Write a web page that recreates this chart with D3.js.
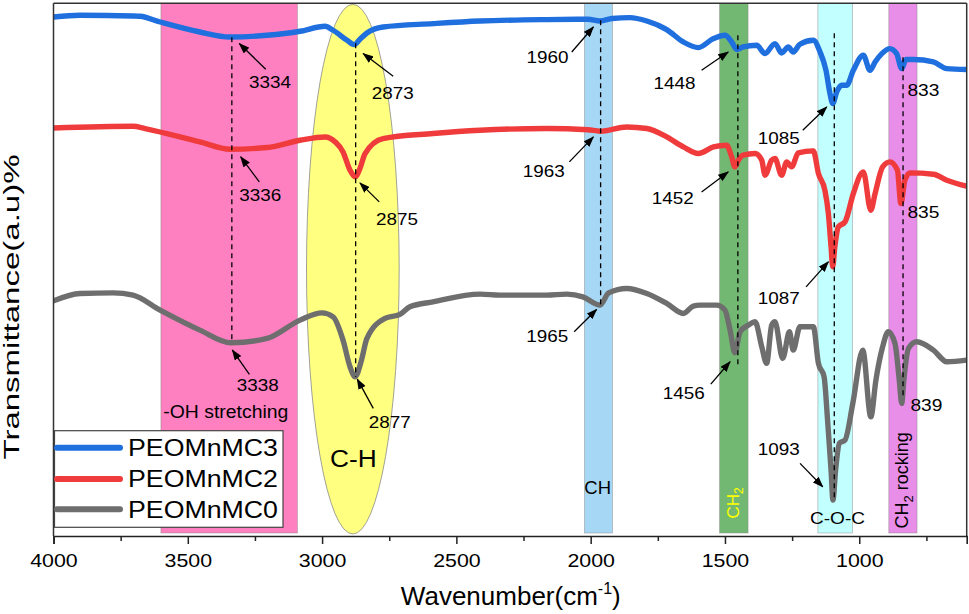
<!DOCTYPE html>
<html><head><meta charset="utf-8">
<script src="https://cdn.jsdelivr.net/npm/d3@7/dist/d3.min.js"></script>
<style>body{margin:0;background:#fff}svg{display:block}text{font-family:"Liberation Sans",Arial,sans-serif}</style>
</head><body><div id="chart"></div>
<script>
// ---------- DATA ----------
const seriesNames = ["PEOMnMC3", "PEOMnMC2", "PEOMnMC0"];
const seriesColors = ["#1f6fde", "#ef3b3b", "#6e6e6e"];

// [wavenumber cm^-1, transmittance a.u.]
const peomnmc3 = [[4000,519.3],[3901,521],[3704,520.3],[3678,520],[3603,514.3],[3455,504.3],[3343,499.3],[3205,501],[3082,505],[2989,510],[2959,506],[2907,496],[2881,491.7],[2859,497],[2833,503.3],[2773,509.3],[2587,512.7],[2412,515.3],[2164,516.7],[2010,517],[1965,515.3],[1920,517.8],[1854,518.7],[1791,515.3],[1717,506.7],[1655,494.3],[1599,488.7],[1543,497.7],[1500,501],[1475,494.3],[1456,486.7],[1432,489.3],[1382,491],[1351,482.7],[1314,492.7],[1289,483.3],[1264,489.3],[1246,484.3],[1221,492],[1171,496],[1146,484.3],[1124,466],[1109,442.7],[1099,432.7],[1084,444.3],[1065,451],[1047,451],[1022,466],[985,481],[960,466],[941,474.3],[916,482.7],[886,487.7],[861,482.7],[842,467.7],[826,476.7],[799,476.7],[724,474.3],[674,467.7],[600,466.7]];
const peomnmc2 = [[4000,408.3],[3704,410],[3659,407.7],[3455,394.3],[3343,387],[3205,388.7],[3082,396],[2989,399.3],[2951,394.3],[2922,384.3],[2896,366],[2877,359.3],[2859,367.7],[2840,382.7],[2773,397.7],[2587,402.7],[2412,406],[2164,407.7],[2010,406.5],[1965,405],[1866,409.3],[1791,407.7],[1717,399.3],[1655,389.3],[1599,382.7],[1543,389.3],[1494,391],[1475,379.3],[1463,369.3],[1450,376],[1432,381],[1388,382.7],[1363,376],[1351,361],[1326,376],[1314,377.7],[1289,361],[1270,374.3],[1252,369.3],[1227,383.3],[1171,385.3],[1152,362.7],[1128,346],[1115,322.7],[1105,289.3],[1099,269.3],[1091,289.3],[1078,309.3],[1053,314.3],[1022,342.7],[985,364.3],[957,326],[941,342.7],[913,369.3],[886,374.3],[858,366],[845,332.7],[830,356],[811,363.3],[724,362],[674,356],[600,350]];
const peomnmc0 = [[4000,235.3],[3901,242.7],[3778,243.3],[3704,241],[3603,226],[3455,206],[3339,193.3],[3205,197.7],[3082,216],[3000,223.3],[2959,219.3],[2922,196],[2896,169.3],[2877,159.3],[2855,174.3],[2833,197.7],[2766,217.7],[2710,221.7],[2673,229.3],[2587,234.3],[2412,242],[2338,241],[2226,241],[2164,241],[2089,242],[2029,239.3],[1965,231],[1933,243.3],[1866,247.7],[1791,242.7],[1717,232.7],[1655,222.7],[1618,230],[1593,231],[1531,231],[1500,226],[1481,206],[1463,183.3],[1444,204.3],[1413,211],[1388,214.3],[1363,189.3],[1345,172.7],[1326,211],[1314,214.3],[1285,177.7],[1260,204.3],[1246,186],[1221,209.3],[1171,209.3],[1152,172.7],[1131,159.3],[1118,116],[1105,66],[1098,36],[1088,66],[1074,92.7],[1053,96],[1024,132.7],[987,186],[957,119.3],[938,156],[913,189.3],[892,204.3],[867,192.7],[851,156],[842,132.7],[834,156],[817,187.7],[786,194.3],[724,186],[674,174.3],[600,176]];

const xTicks = [4000, 3500, 3000, 2500, 2000, 1500, 1000];
const xMinorTicks = [3750, 3250, 2750, 2250, 1750, 1250, 750];

// shaded assignment bands [from, to] in cm^-1
const bands = [
  {from:3600, to:3092, fill:"#ff80c0"},
  {from:2023, to:1919, fill:"#a6d8f6"},
  {from:1520, to:1414, fill:"#72b872"},
  {from:1154, to:1025, fill:"#c2ffff"},
  {from:890,  to:785,  fill:"#e88ee8"}
];
const ellipseBand = {from:3058, to:2713, fill:"#ffff80"};

// dashed peak markers [wavenumber, from value, to value]
const peakLines = [[3336,499,193],[2875,493,159],[1963,516,231],[1452,501,169],[1093,503,36],[837,479,139]];

// peak annotations: arrow tip (wn, value) and pixel offsets of tail / label centre
const annotations = [
  {label:"3334", wn:3308, v:492.7, tail:[26.4,25.7], text:[30.7,44]},
  {label:"2873", wn:2847, v:482.7, tail:[30,22.7],   text:[29.5,45.7]},
  {label:"3336", wn:3303, v:379.3, tail:[18.6,25],   text:[19.5,44]},
  {label:"2875", wn:2859, v:353.3, tail:[19.3,19],   text:[37,42.3]},
  {label:"3338", wn:3334, v:186,   tail:[17,24.3],   text:[25.4,41]},
  {label:"2877", wn:2869, v:157,   tail:[16,29.3],   text:[32.4,49.3]},
  {label:"1960", wn:1990, v:509.3, tail:[-21.6,25],  text:[-45.8,35.6]},
  {label:"1448", wn:1488, v:484.3, tail:[-26.6,18.3],text:[-53.8,36.6]},
  {label:"1963", wn:1990, v:399.3, tail:[-24,25],    text:[-49.5,40]},
  {label:"1452", wn:1488, v:364.3, tail:[-26.6,20],  text:[-55.5,31.6]},
  {label:"1085", wn:1121, v:429.3, tail:[-24,23.3],  text:[-47.9,36.6]},
  {label:"1087", wn:1115, v:274.3, tail:[-22.3,25],  text:[-49.5,42.3]},
  {label:"1965", wn:1978, v:226.7, tail:[-22.4,22.4],text:[-49.2,32.4]},
  {label:"1456", wn:1481, v:174.3, tail:[-19.3,22.3],text:[-46.3,37.6]},
  {label:"1093", wn:1136, v:49.3,  tail:[-22.7,-23.4],text:[-43.9,-31.7]},
  {label:"833",  wn:761,  v:440.3, tail:null, text:[0,0]},
  {label:"835",  wn:761,  v:317.7, tail:null, text:[0,0]},
  {label:"839",  wn:750,  v:125,   tail:null, text:[0,0]}
];

// ---------- CHART ----------
const W = 969, H = 614;
const L = 53.5, R = 966.7, T = 3.3, B = 536;
const svg = d3.select("#chart").append("svg").attr("width", W).attr("height", H);
const x = d3.scaleLinear().domain([4000, 600]).range([L, R]);
const y = d3.scaleLinear().domain([0, 533]).range([B, T]);

const defs = svg.append("defs");
defs.append("clipPath").attr("id","plot").append("rect").attr("x",L).attr("y",T).attr("width",R-L).attr("height",B-T);
defs.append("marker").attr("id","arrow").attr("markerUnits","userSpaceOnUse")
  .attr("markerWidth",11).attr("markerHeight",8).attr("refX",10).attr("refY",4).attr("orient","auto")
  .append("path").attr("d","M0,0 L11,4 L0,8 Z").attr("fill","#000");

const gPlot = svg.append("g").attr("clip-path","url(#plot)");

// bands
gPlot.selectAll("rect.band").data(bands).enter().append("rect").attr("class","band")
  .attr("x", d => x(d.from)).attr("width", d => x(d.to) - x(d.from))
  .attr("y", y(533)).attr("height", y(3) - y(533))
  .attr("fill", d => d.fill).attr("stroke","#8a8a8a").attr("stroke-opacity",0.6).attr("stroke-width",0.8);

gPlot.append("ellipse")
  .attr("cx", (x(ellipseBand.from)+x(ellipseBand.to))/2)
  .attr("rx", (x(ellipseBand.to)-x(ellipseBand.from))/2)
  .attr("cy", (y(532)+y(2))/2).attr("ry", (y(2)-y(532))/2)
  .attr("fill", ellipseBand.fill).attr("stroke","#8a8a8a").attr("stroke-width",0.8);

// curves
const line = d3.line().x(d => x(d[0])).y(d => y(d[1])).curve(d3.curveMonotoneX);
[peomnmc3, peomnmc2, peomnmc0].forEach((s,i) => {
  gPlot.append("path").datum(s).attr("d", line).attr("fill","none")
    .attr("stroke", seriesColors[i]).attr("stroke-width",5.4)
    .attr("stroke-linejoin","round").attr("stroke-linecap","round");
});

// dashed peak lines
svg.selectAll("line.peak").data(peakLines).enter().append("line")
  .attr("x1", d => x(d[0])).attr("x2", d => x(d[0]))
  .attr("y1", d => y(d[1])).attr("y2", d => y(d[2]))
  .attr("stroke","#000").attr("stroke-width",1.3).attr("stroke-dasharray","5,4");

// annotations
annotations.forEach(a => {
  const px = x(a.wn), py = y(a.v);
  if (a.tail) {
    svg.append("line").attr("x1", px + a.tail[0]).attr("y1", py + a.tail[1])
      .attr("x2", px).attr("y2", py).attr("stroke","#000").attr("stroke-width",1.3)
      .attr("marker-end","url(#arrow)");
  }
  svg.append("text").attr("x", px + a.text[0]).attr("y", py + a.text[1])
    .attr("text-anchor","middle").attr("font-size",17)
    .attr("textLength", a.label.length === 4 ? 42 : 32).attr("lengthAdjust","spacingAndGlyphs")
    .attr("fill","#000").text(a.label);
});

// band labels
function label(str, cx, by, size, len, color) {
  return svg.append("text").attr("x",cx).attr("y",by).attr("text-anchor","middle")
    .attr("font-size",size).attr("fill",color||"#000")
    .attr("textLength",len).attr("lengthAdjust","spacingAndGlyphs").text(str);
}
label("-OH stretching", 225.8, 417.7, 18, 125);
label("C-H", 353.3, 466.7, 23, 46.7);
label("CH", 597.7, 494.3, 17.5, 26.7);
label("C-O-C", 837.5, 524, 17, 55);

const ch2 = svg.append("text").attr("transform","translate(738.5,518.5) rotate(-90)")
  .attr("font-size",17).attr("fill","#ffff00");
ch2.append("tspan").text("CH");
ch2.append("tspan").attr("font-size",12).attr("dy",4).text("2");

const rock = svg.append("text").attr("transform","translate(908,528.5) rotate(-90)")
  .attr("font-size",18).attr("fill","#000");
rock.append("tspan").text("CH");
rock.append("tspan").attr("font-size",13).attr("dy",5).text("2");
rock.append("tspan").attr("dy",-5).text(" rocking");

// frame
const frame = svg.append("g").attr("stroke","#333").attr("stroke-width",1.5).attr("fill","none");
frame.append("line").attr("x1",L).attr("x2",R).attr("y1",T).attr("y2",T);
frame.append("line").attr("x1",R).attr("x2",R).attr("y1",T).attr("y2",B);
frame.append("line").attr("x1",L).attr("x2",L).attr("y1",T).attr("y2",B);

// x axis
const xAxis = svg.append("g").attr("transform",`translate(0,${B})`)
  .call(d3.axisBottom(x).tickValues(xTicks).tickSize(8).tickFormat(d3.format("d")));
xAxis.select(".domain").attr("stroke","#222").attr("stroke-width",1.6);
xAxis.selectAll(".tick line").attr("stroke","#222").attr("stroke-width",1.5);
xAxis.selectAll(".tick text").attr("font-size",18).attr("dy",0).attr("y",30.7)
  .attr("textLength",47.5).attr("lengthAdjust","spacingAndGlyphs").attr("fill","#000")
  .attr("font-family","'Liberation Sans',Arial,sans-serif");
const xMinor = svg.append("g").attr("transform",`translate(0,${B})`)
  .call(d3.axisBottom(x).tickValues(xMinorTicks).tickSize(5).tickFormat(""));
xMinor.select(".domain").remove();
xMinor.selectAll(".tick line").attr("stroke","#222").attr("stroke-width",1.5);

// axis titles
const xt = svg.append("text").attr("x",510.8).attr("y",605).attr("text-anchor","middle")
  .attr("font-size",26).attr("fill","#000");
xt.append("tspan").text("Wavenumber(cm");
xt.append("tspan").attr("font-size",16).attr("dy",-11).text("-1");
xt.append("tspan").attr("dy",11).text(")");

svg.append("text").attr("transform","translate(19,307) rotate(-90)").attr("text-anchor","middle")
  .attr("font-size",22).attr("textLength",305).attr("lengthAdjust","spacingAndGlyphs")
  .attr("fill","#000").text("Transmittance(a.u)%");

// legend
const lg = svg.append("g");
lg.append("rect").attr("x",54.5).attr("y",430.7).attr("width",228.5).attr("height",96.6)
  .attr("fill","#fff").attr("stroke","#444").attr("stroke-width",1.2);
const rowY = [447.7, 479, 509.3];
seriesNames.forEach((n,i) => {
  lg.append("line").attr("x1",57).attr("x2",120).attr("y1",rowY[i]).attr("y2",rowY[i])
    .attr("stroke",seriesColors[i]).attr("stroke-width",6).attr("stroke-linecap","round");
  lg.append("text").attr("x",128).attr("y",rowY[i]+8.4).attr("font-size",23)
    .attr("textLength",150).attr("lengthAdjust","spacingAndGlyphs").attr("fill","#000").text(n);
});
</script></body></html>
